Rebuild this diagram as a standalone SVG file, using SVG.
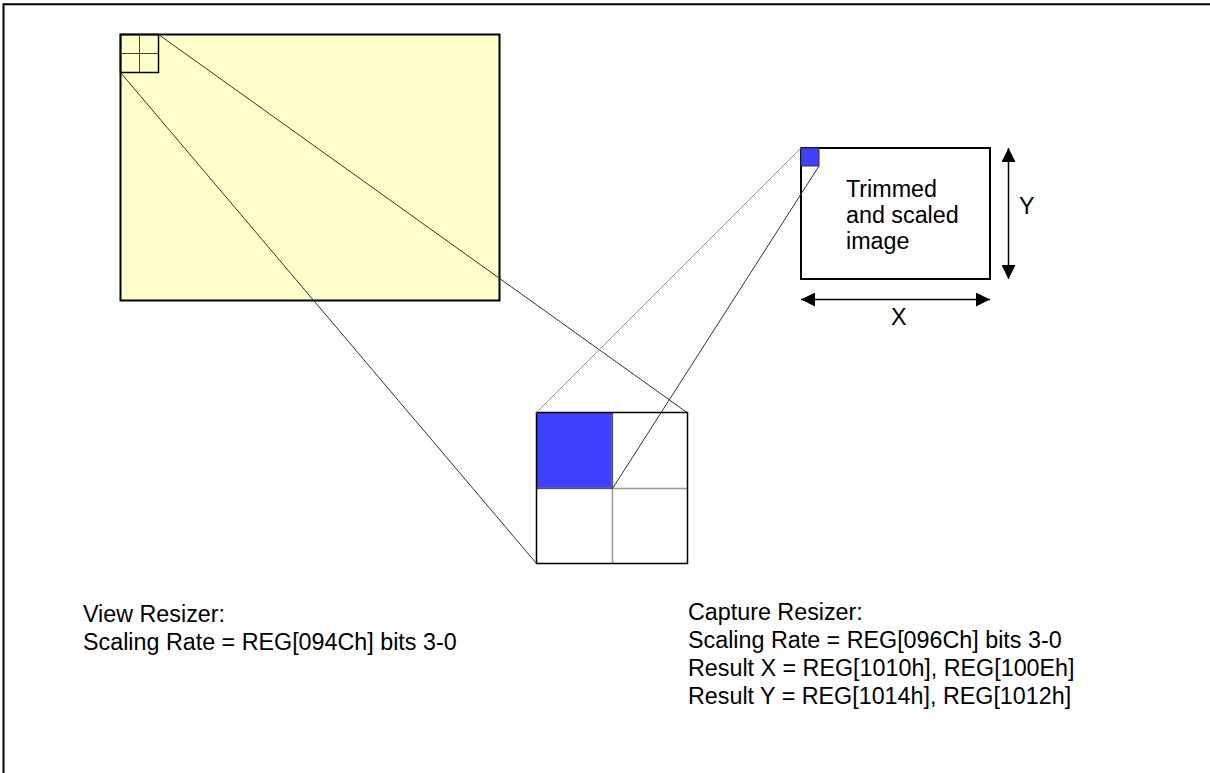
<svg xmlns="http://www.w3.org/2000/svg" width="1210" height="773" viewBox="0 0 1210 773">
<style>
text { font-family: "Liberation Sans", Arial, sans-serif; font-size: 23.3px; fill: #000; }
.thin { stroke: #333; stroke-width: 1; fill: none; }
.light { stroke: #999; stroke-width: 1; fill: none; }
.grid { stroke: #999; stroke-width: 1.5; fill: none; }
</style>
<defs>
<marker id="ah" viewBox="0 0 14 14" refX="14" refY="7" markerWidth="14" markerHeight="14" markerUnits="userSpaceOnUse" orient="auto-start-reverse">
<path d="M0,0 L14,7 L0,14 Z" fill="#000"/>
</marker>
</defs>
<rect width="1210" height="773" fill="#fff"/>
<g id="frame">
<path d="M3.5,773 V4.3 H1210" stroke="#000" stroke-width="2" fill="none"/>
</g>
<g id="source-image">
<rect x="120.5" y="34.5" width="379" height="266" fill="#FFFFCC" stroke="#000" stroke-width="2"/>
<rect x="120.5" y="34.5" width="38" height="38" fill="none" stroke="#000" stroke-width="1.5"/>
<path d="M139.5,34.5 V72.5 M120.5,53.5 H158.5" stroke="#444" stroke-width="1"/>
</g>
<g id="zoom-grid">
<rect x="536.5" y="412.5" width="151" height="151" fill="#fff"/>
<rect x="536.5" y="412.5" width="76" height="76" fill="#4040FF"/>
<path d="M612.5,412.5 V563.5 M536.5,488.5 H687.5" class="grid"/>
<path d="M612.5,412.5 V488.5 M536.5,488.5 H612.5" stroke="#555" stroke-width="1"/>
<rect x="536.5" y="412.5" width="151" height="151" fill="none" stroke="#000" stroke-width="1.5"/>
</g>
<g id="trimmed-image">
<rect x="801" y="148" width="189" height="131" fill="#fff" stroke="#000" stroke-width="2"/>
<rect x="801" y="148" width="18" height="18" fill="#4040FF" stroke="#333" stroke-width="1"/>
<text x="846" y="197">Trimmed</text>
<text x="846" y="223">and scaled</text>
<text x="846" y="249">image</text>
</g>
<g id="connectors">
<line x1="158.5" y1="34.5" x2="687" y2="412.5" class="thin"/>
<line x1="120.5" y1="72.5" x2="536.5" y2="563.5" class="thin"/>
<line x1="536.5" y1="412.5" x2="801" y2="148" class="light"/>
<line x1="612.5" y1="488.5" x2="819" y2="166" class="thin"/>
</g>
<g id="dimensions">
<line x1="1008.5" y1="148" x2="1008.5" y2="279" stroke="#000" stroke-width="1.5" marker-start="url(#ah)" marker-end="url(#ah)"/>
<line x1="801" y1="299.5" x2="990" y2="299.5" stroke="#000" stroke-width="1.5" marker-start="url(#ah)" marker-end="url(#ah)"/>
<text x="1019" y="214">Y</text>
<text x="891" y="325">X</text>
</g>
<g id="view-label">
<text x="83" y="622">View Resizer:</text>
<text x="83" y="650">Scaling Rate = REG[094Ch] bits 3-0</text>
</g>
<g id="capture-label">
<text x="688" y="620">Capture Resizer:</text>
<text x="688" y="648">Scaling Rate = REG[096Ch] bits 3-0</text>
<text x="688" y="676">Result X = REG[1010h], REG[100Eh]</text>
<text x="688" y="704">Result Y = REG[1014h], REG[1012h]</text>
</g>
</svg>
